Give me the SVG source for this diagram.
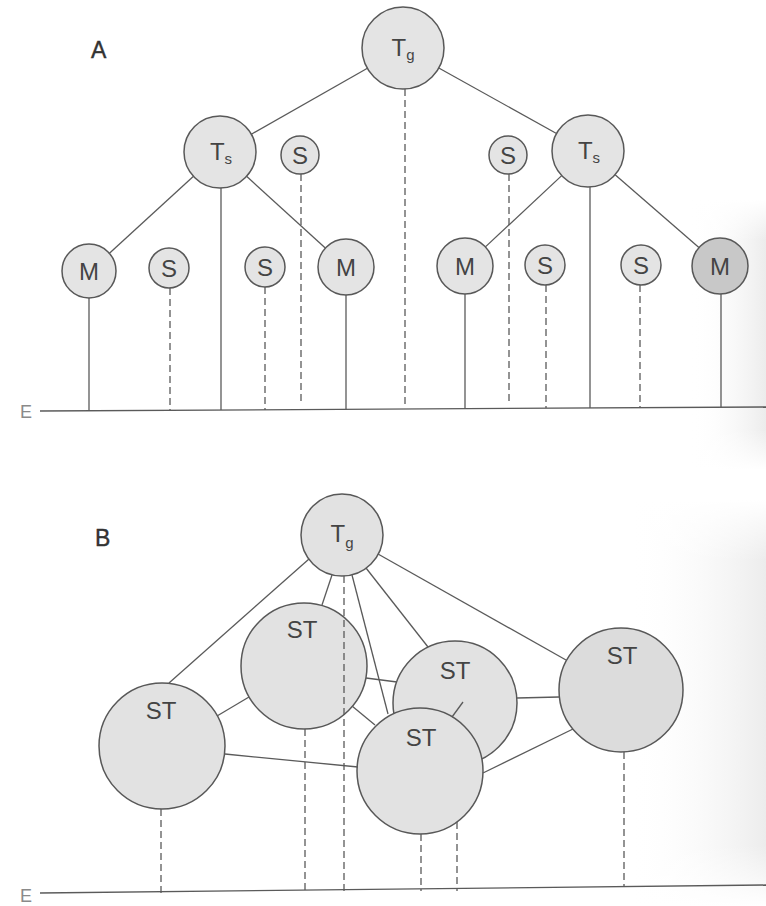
<svg xmlns="http://www.w3.org/2000/svg" width="766" height="906" viewBox="0 0 766 906">
<defs>
<linearGradient id="edge" x1="0" y1="0" x2="1" y2="0">
<stop offset="0" stop-color="#ffffff" stop-opacity="0"/>
<stop offset="1" stop-color="#ececec" stop-opacity="1"/>
</linearGradient>
<linearGradient id="fadeV" x1="0" y1="0" x2="0" y2="1">
<stop offset="0" stop-color="#fff" stop-opacity="1"/>
<stop offset="0.15" stop-color="#fff" stop-opacity="0"/>
<stop offset="0.85" stop-color="#fff" stop-opacity="0"/>
<stop offset="1" stop-color="#fff" stop-opacity="1"/>
</linearGradient>
<style>
.n{fill:#e4e4e4;stroke:#585858;stroke-width:1.5}
.dk{fill:#c8c8c8}
.st{fill:#e2e2e2;stroke:#585858;stroke-width:1.5}
.c{stroke:#5a5a5a;stroke-width:1.3;fill:none}
.d{stroke:#5a5a5a;stroke-width:1.3;fill:none;stroke-dasharray:7 4}
.t{font-family:"Liberation Sans",Arial,sans-serif;font-size:24px;fill:#444;text-anchor:middle}
.sub{font-size:15px}
.lab{font-family:"Liberation Sans",Arial,sans-serif;font-size:23px;fill:#333;stroke:#333;stroke-width:0.4}
.e{font-family:"Liberation Sans",Arial,sans-serif;font-size:18px;fill:#8a8a8a}
</style>
</defs>
<rect width="766" height="906" fill="#ffffff"/>
<rect x="690" y="200" width="76" height="270" fill="url(#edge)"/>
<rect x="690" y="200" width="76" height="270" fill="url(#fadeV)"/>
<rect x="630" y="500" width="136" height="406" fill="url(#edge)"/>
<rect x="630" y="500" width="136" height="406" fill="url(#fadeV)"/>

<text class="lab" x="91" y="58">A</text>
<text class="lab" x="95" y="546">B</text>
<text class="e" x="20" y="418">E</text>
<text class="e" x="20" y="902">E</text>

<!-- Part A nodes -->
<g id="A-Tg"><circle class="n" cx="403" cy="48" r="41"/><text class="t" x="403" y="56">T<tspan class="sub" dy="4">g</tspan></text></g>
<g id="A-Ts1"><circle class="n" cx="220" cy="152" r="36"/><text class="t" x="221" y="160">T<tspan class="sub" dy="4">s</tspan></text></g>
<g id="A-Ts2"><circle class="n" cx="588" cy="151" r="36"/><text class="t" x="589" y="159">T<tspan class="sub" dy="4">s</tspan></text></g>
<g id="A-S1"><circle class="n" cx="300" cy="155" r="19"/><text class="t" x="300" y="163.5">S</text></g>
<g id="A-S2"><circle class="n" cx="508" cy="155" r="19"/><text class="t" x="508" y="163.5">S</text></g>
<g id="A-M1"><circle class="n" cx="89" cy="271" r="27"/><text class="t" x="89" y="279.5">M</text></g>
<g id="A-S3"><circle class="n" cx="169" cy="268" r="20"/><text class="t" x="169" y="276.5">S</text></g>
<g id="A-S4"><circle class="n" cx="265" cy="267" r="20"/><text class="t" x="265" y="275.5">S</text></g>
<g id="A-M2"><circle class="n" cx="346" cy="267" r="28"/><text class="t" x="346" y="275.5">M</text></g>
<g id="A-M3"><circle class="n" cx="465" cy="266" r="28"/><text class="t" x="465" y="274.5">M</text></g>
<g id="A-S5"><circle class="n" cx="545" cy="265" r="20"/><text class="t" x="545" y="273.5">S</text></g>
<g id="A-S6"><circle class="n" cx="641" cy="265" r="20"/><text class="t" x="641" y="273.5">S</text></g>
<g id="A-M4"><circle class="n dk" cx="720" cy="266" r="28"/><text class="t" x="720" y="274.5">M</text></g>

<!-- Part B nodes -->
<g id="B-Tg"><circle class="st" cx="342" cy="535" r="41"/><text class="t" x="342" y="542">T<tspan class="sub" dy="6">g</tspan></text></g>
<g id="B-ST1"><circle class="st" cx="162" cy="746" r="63"/><text class="t" x="161" y="719">ST</text></g>
<g id="B-ST2"><circle class="st" cx="304" cy="666" r="63"/><text class="t" x="302" y="638">ST</text></g>
<g id="B-ST3"><circle class="st" cx="455" cy="703" r="62"/><text class="t" x="455" y="679">ST</text></g>
<g id="B-ST4"><circle class="st" cx="621" cy="690" r="62" style="fill:#dcdcdc"/><text class="t" x="622" y="664">ST</text></g>
<g id="B-ST5"><circle class="st" cx="420" cy="771" r="63"/><text class="t" x="421" y="746">ST</text></g>

<g id="connectors">
<!-- baselines -->
<line class="c" x1="40" y1="411" x2="766" y2="407"/>
<line class="c" x1="40" y1="893" x2="766" y2="885"/>
<!-- A hierarchy -->
<line class="c" x1="367.4" y1="68.3" x2="251.3" y2="134.2"/>
<line class="c" x1="438.8" y1="68" x2="556.5" y2="133.5"/>
<line class="c" x1="193.5" y1="176.3" x2="108.9" y2="253.8"/>
<line class="c" x1="246.6" y1="176.3" x2="325.3" y2="248.1"/>
<line class="c" x1="561.7" y1="175.6" x2="485.4" y2="246.9"/>
<line class="c" x1="615.1" y1="174.7" x2="698.9" y2="247.6"/>
<!-- A verticals -->
<line class="c" x1="89" y1="298" x2="89" y2="411"/>
<line class="d" x1="170" y1="288" x2="170" y2="410"/>
<line class="c" x1="221" y1="188" x2="221" y2="410"/>
<line class="d" x1="265" y1="287" x2="265" y2="410"/>
<line class="d" x1="301" y1="174" x2="301" y2="403"/>
<line class="c" x1="346" y1="295" x2="346" y2="409.5"/>
<line class="d" x1="405" y1="89" x2="405" y2="408"/>
<line class="c" x1="465" y1="294" x2="465" y2="409"/>
<line class="d" x1="509" y1="174" x2="509" y2="401"/>
<line class="d" x1="546" y1="285" x2="546" y2="408"/>
<line class="c" x1="590" y1="187" x2="590" y2="408"/>
<line class="d" x1="640" y1="285" x2="640" y2="407.7"/>
<line class="c" x1="721" y1="294" x2="721" y2="407.3"/>
<!-- B links -->
<line class="c" x1="309" y1="559" x2="169" y2="683"/>
<line class="c" x1="332" y1="575" x2="322" y2="605"/>
<line class="c" x1="352" y1="575" x2="388" y2="714"/>
<line class="c" x1="366" y1="568" x2="428" y2="647"/>
<line class="c" x1="378" y1="554" x2="566" y2="660"/>
<line class="c" x1="217" y1="716" x2="249" y2="697"/>
<line class="c" x1="225" y1="754" x2="358" y2="767"/>
<line class="c" x1="366" y1="678" x2="397" y2="682"/>
<line class="c" x1="352" y1="706" x2="375" y2="725"/>
<line class="c" x1="463" y1="702" x2="452" y2="717"/>
<line class="c" x1="517" y1="698" x2="559" y2="697"/>
<line class="c" x1="483" y1="773" x2="573" y2="729"/>
<!-- B verticals -->
<line class="d" x1="344" y1="576" x2="344" y2="892"/>
<line class="d" x1="161" y1="809" x2="161" y2="893"/>
<line class="d" x1="305" y1="729" x2="305" y2="892"/>
<line class="d" x1="421" y1="834" x2="421" y2="891"/>
<line class="d" x1="457" y1="822" x2="457" y2="891"/>
<line class="d" x1="624" y1="752" x2="624" y2="887"/>
</g>
</svg>
